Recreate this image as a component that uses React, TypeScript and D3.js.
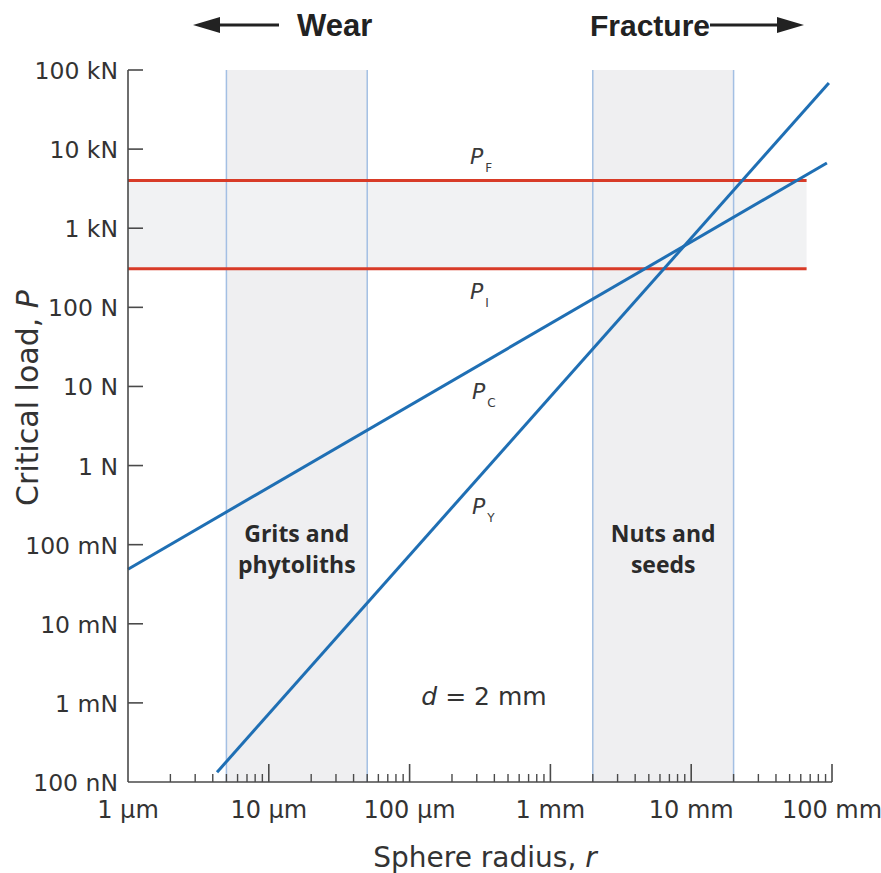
import React from "react";
import * as d3 from "d3";

// ---- data ----
const xTickValues = [1e-6, 1e-5, 1e-4, 1e-3, 1e-2, 1e-1];
const xTickLabels = ["1 µm", "10 µm", "100 µm", "1 mm", "10 mm", "100 mm"];
const yTickValues = [1e5, 1e4, 1e3, 100, 10, 1, 0.1, 0.01, 0.001, 1e-4];
const yTickLabels = ["100 kN", "10 kN", "1 kN", "100 N", "10 N", "1 N", "100 mN", "10 mN", "1 mN", "100 nN"];

const gritsBand = [5e-6, 5e-5];
const nutsBand = [2e-3, 2e-2];
const fractureLoads = [4000, 308]; // P_F, P_I
const fractureExtent = [1e-6, 0.066];

const pcR = [1e-6, 0.092];
const pcP = [0.049, 6670];
const pyR = [4.29e-6, 0.095];
const pyP = [1.33e-4, 68500];

const W = 881;
const H = 873;
const X0 = 128, X1 = 832, Y0 = 782, Y1 = 70;

export default function App() {
  const x = d3.scaleLog().domain([1e-6, 0.1]).range([X0, X1]);
  const y = d3.scaleLog().domain([1e-4, 1e5]).range([Y0, Y1]);
  const line = d3
    .line<[number, number]>()
    .x((d) => x(d[0]))
    .y((d) => y(d[1]));

  const minor: number[] = [];
  for (let e = -6; e < -1; e++) {
    for (let k = 2; k <= 9; k++) minor.push(k * Math.pow(10, e));
  }

  const axisColor = "#4a4a4a";
  const blue = "#1f6fb4";
  const red = "#d83b27";
  const bandFill = "#efeff1";
  const bandLine = "#a3bfe3";
  const tickFont = "DejaVu Sans, sans-serif";
  const textColor = "#333";

  const pc = pcR.map((r, i) => [r, pcP[i]] as [number, number]);
  const py = pyR.map((r, i) => [r, pyP[i]] as [number, number]);

  const PLabel = ({ xx, yy, sub }: { xx: number; yy: number; sub: string }) => (
    <text x={xx} y={yy} fontFamily={tickFont} fontSize={22} fontStyle="italic" fill="#3a3a3a">
      P
      <tspan fontSize={12} fontStyle="normal" dx={2} dy={8}>
        {sub}
      </tspan>
    </text>
  );

  return (
    <svg width={W} height={H} style={{ position: "absolute", left: 0, top: 0, background: "#fff" }}>
      {/* vertical bands */}
      {[gritsBand, nutsBand].map((b, i) => (
        <rect key={"vb" + i} x={x(b[0])} y={Y1} width={x(b[1]) - x(b[0])} height={Y0 - Y1} fill={bandFill} />
      ))}
      {/* horizontal band */}
      <rect
        x={x(fractureExtent[0])}
        y={y(fractureLoads[0])}
        width={x(fractureExtent[1]) - x(fractureExtent[0])}
        height={y(fractureLoads[1]) - y(fractureLoads[0])}
        fill="#f1f2f3"
      />
      {/* band borders */}
      {[...gritsBand, ...nutsBand].map((v, i) => (
        <line key={"bl" + i} x1={x(v)} x2={x(v)} y1={Y1} y2={Y0} stroke={bandLine} strokeWidth={1.5} />
      ))}
      {/* red lines */}
      {fractureLoads.map((p, i) => (
        <line
          key={"rl" + i}
          x1={x(fractureExtent[0])}
          x2={x(fractureExtent[1])}
          y1={y(p)}
          y2={y(p)}
          stroke={red}
          strokeWidth={3}
        />
      ))}
      {/* blue lines */}
      <path d={line(pc) || ""} stroke={blue} strokeWidth={3} fill="none" />
      <path d={line(py) || ""} stroke={blue} strokeWidth={3} fill="none" />

      {/* axes */}
      <line x1={X0} x2={X0} y1={Y1} y2={Y0} stroke={axisColor} strokeWidth={1.6} />
      <line x1={X0} x2={X1} y1={Y0} y2={Y0} stroke={axisColor} strokeWidth={1.6} />
      {yTickValues.slice(0, -1).map((v, i) => (
        <line key={"yt" + i} x1={X0} x2={X0 + 15} y1={y(v)} y2={y(v)} stroke={axisColor} strokeWidth={1.6} />
      ))}
      {xTickValues.slice(1).map((v, i) => (
        <line key={"xt" + i} x1={x(v)} x2={x(v)} y1={Y0} y2={Y0 - 18} stroke={axisColor} strokeWidth={1.6} />
      ))}
      {minor.map((v, i) => (
        <line key={"xm" + i} x1={x(v)} x2={x(v)} y1={Y0} y2={Y0 - 8} stroke={axisColor} strokeWidth={1.4} />
      ))}
      {yTickLabels.map((t, i) => (
        <text
          key={"yl" + i}
          x={118}
          y={y(yTickValues[i]) + 9}
          textAnchor="end"
          fontFamily={tickFont}
          fontSize={23.5}
          fill={textColor}
        >
          {t}
        </text>
      ))}
      {xTickLabels.map((t, i) => (
        <text
          key={"xl" + i}
          x={x(xTickValues[i])}
          y={818}
          textAnchor="middle"
          fontFamily={tickFont}
          fontSize={24}
          fill={textColor}
        >
          {t}
        </text>
      ))}
      <text x={485} y={867} textAnchor="middle" fontFamily={tickFont} fontSize={28} fill={textColor}>
        Sphere radius, <tspan fontStyle="italic">r</tspan>
      </text>
      <text
        transform="translate(38,398) rotate(-90)"
        textAnchor="middle"
        fontFamily={tickFont}
        fontSize={30}
        fill={textColor}
      >
        Critical load, <tspan fontStyle="italic">P</tspan>
      </text>

      {/* header arrows */}
      <line x1={216} x2={279} y1={25} y2={25} stroke="#222" strokeWidth={3} />
      <path d="M193,25 L220,17 L220,33 Z" fill="#222" />
      <text x={297} y={36} fontFamily="Liberation Sans, Arial, sans-serif" fontWeight="bold" fontSize={31} fill="#222">
        Wear
      </text>
      <text x={590} y={36} fontFamily="Liberation Sans, Arial, sans-serif" fontWeight="bold" fontSize={30} fill="#222">
        Fracture
      </text>
      <line x1={710} x2={780} y1={25} y2={25} stroke="#222" strokeWidth={3} />
      <path d="M804,25 L777,17 L777,33 Z" fill="#222" />

      {/* band labels */}
      {[
        { cx: (x(gritsBand[0]) + x(gritsBand[1])) / 2, l1: "Grits and", l2: "phytoliths" },
        { cx: (x(nutsBand[0]) + x(nutsBand[1])) / 2, l1: "Nuts and", l2: "seeds" },
      ].map((b, i) => (
        <text
          key={"bt" + i}
          textAnchor="middle"
          fontFamily="Open Sans, sans-serif"
          fontWeight="bold"
          fontSize={23}
          fill="#2a2a2a"
        >
          <tspan x={b.cx} y={542}>
            {b.l1}
          </tspan>
          <tspan x={b.cx} y={573}>
            {b.l2}
          </tspan>
        </text>
      ))}

      {/* line labels */}
      <PLabel xx={470} yy={164} sub="F" />
      <PLabel xx={470} yy={299} sub="I" />
      <PLabel xx={472} yy={399} sub="C" />
      <PLabel xx={472} yy={514} sub="Y" />

      <text x={484} y={705} textAnchor="middle" fontFamily={tickFont} fontSize={25} fill={textColor}>
        <tspan fontStyle="italic">d</tspan> = 2 mm
      </text>
    </svg>
  );
}
